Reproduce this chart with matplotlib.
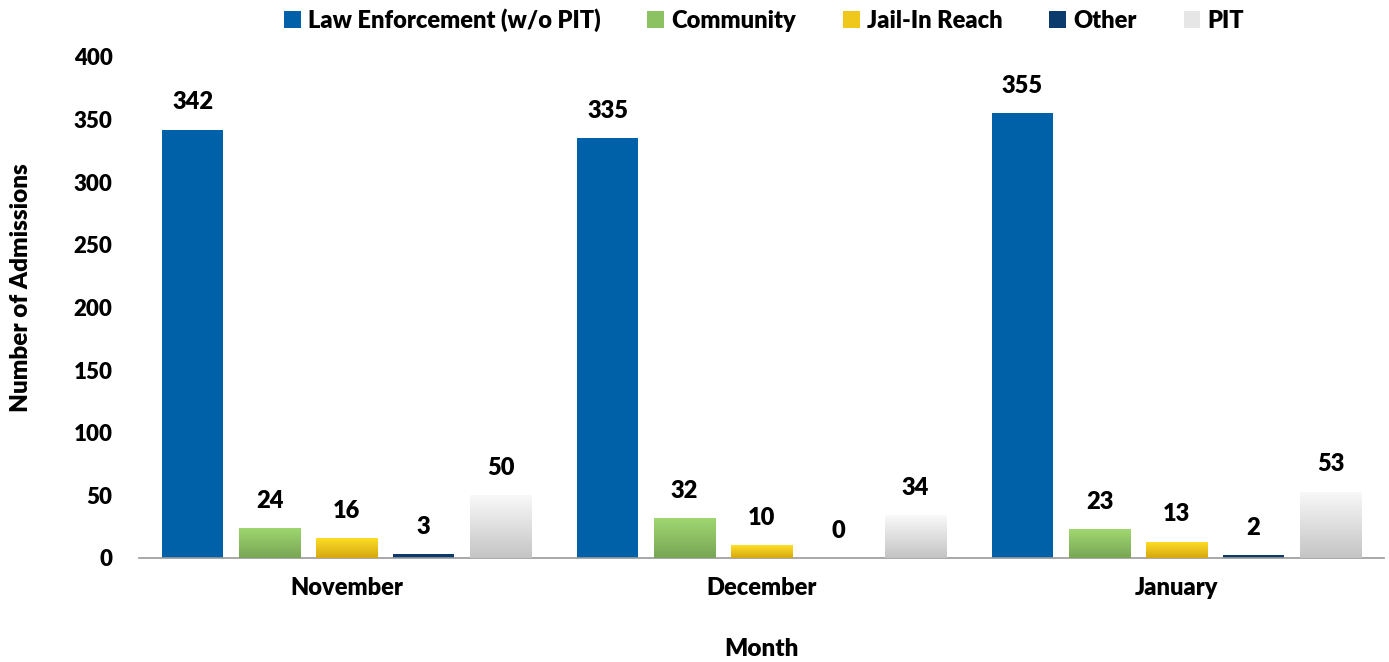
import numpy as np
import matplotlib
matplotlib.use("Agg")
import matplotlib.pyplot as plt
from matplotlib.colors import LinearSegmentedColormap
from matplotlib.patches import Patch

plt.rcParams['font.family'] = ['Lato', 'DejaVu Sans']
plt.rcParams['font.weight'] = 'heavy'
plt.rcParams['axes.labelweight'] = 'heavy'

# data
months = ['November', 'December', 'January']
series = ['Law Enforcement (w/o PIT)', 'Community', 'Jail-In Reach', 'Other', 'PIT']
law_enf = [342, 335, 355]
community = [24, 32, 23]
jail_in = [16, 10, 13]
other = [3, 0, 2]
pit = [50, 34, 53]
values = [law_enf, community, jail_in, other, pit]

# (top colour, bottom colour) for each series
grads = [('#0061a9', '#0061a9'),
         ('#a0d870', '#78a655'),
         ('#ffe026', '#d6a710'),
         ('#0b3a6c', '#0b3a6c'),
         ('#f9f9f9', '#c4c4c4')]
legend_colors = ['#0061a9', '#8cc262', '#f0c81c', '#0b3a6c', '#e6e6e6']

fig = plt.figure(figsize=(13.89, 6.62), dpi=100)
ax = fig.add_axes([0.1001, 0.1571, 0.8963, 0.7568])

x = np.arange(len(months))
pitch = 0.1855
width = 0.149
grad_img = np.linspace(1, 0, 256).reshape(-1, 1)

for i, (name, vals) in enumerate(zip(series, values)):
    pos = x + (i - 2) * pitch
    top, bot = grads[i]
    bars = ax.bar(pos, vals, width, color=top, edgecolor='none', zorder=2)
    if top != bot:
        cmap = LinearSegmentedColormap.from_list(name, [bot, top])
        for b in bars:
            h = b.get_height()
            if h <= 0:
                continue
            bx = b.get_x()
            im = ax.imshow(grad_img, cmap=cmap, aspect='auto', zorder=3,
                           extent=[bx, bx + width, 0, h], interpolation='bicubic')
            im.set_clip_path(b)
    for p, v in zip(pos, vals):
        ax.text(p, v + 13, str(v), ha='center', va='bottom', fontsize=17,
                color='black')

ax.set_xlim(-0.5, 2.5)
ax.set_ylim(0, 400)
ax.set_yticks(range(0, 401, 50))
ax.set_xticks(x)
ax.set_xticklabels(months)
ax.tick_params(axis='y', length=0, labelsize=16, pad=19)
ax.tick_params(axis='x', length=0, labelsize=17, pad=14)
for s in ['top', 'right', 'left']:
    ax.spines[s].set_visible(False)
ax.spines['bottom'].set_color('#999999')
ax.spines['bottom'].set_linewidth(1.2)

ax.set_xlabel('Month', fontsize=17.5, labelpad=28)
ax.set_ylabel('Number of Admissions', fontsize=17.5)
ax.yaxis.set_label_coords(-0.086, 0.54)

handles = [Patch(facecolor=c, edgecolor='none') for c in legend_colors]
fig.legend(handles, series, loc='upper center', bbox_to_anchor=(0.55, 1.02),
           ncol=5, frameon=False, fontsize=17, handlelength=0.7, handleheight=0.7,
           handletextpad=0.3, columnspacing=2.0)

fig.savefig('out.png', dpi=100)
